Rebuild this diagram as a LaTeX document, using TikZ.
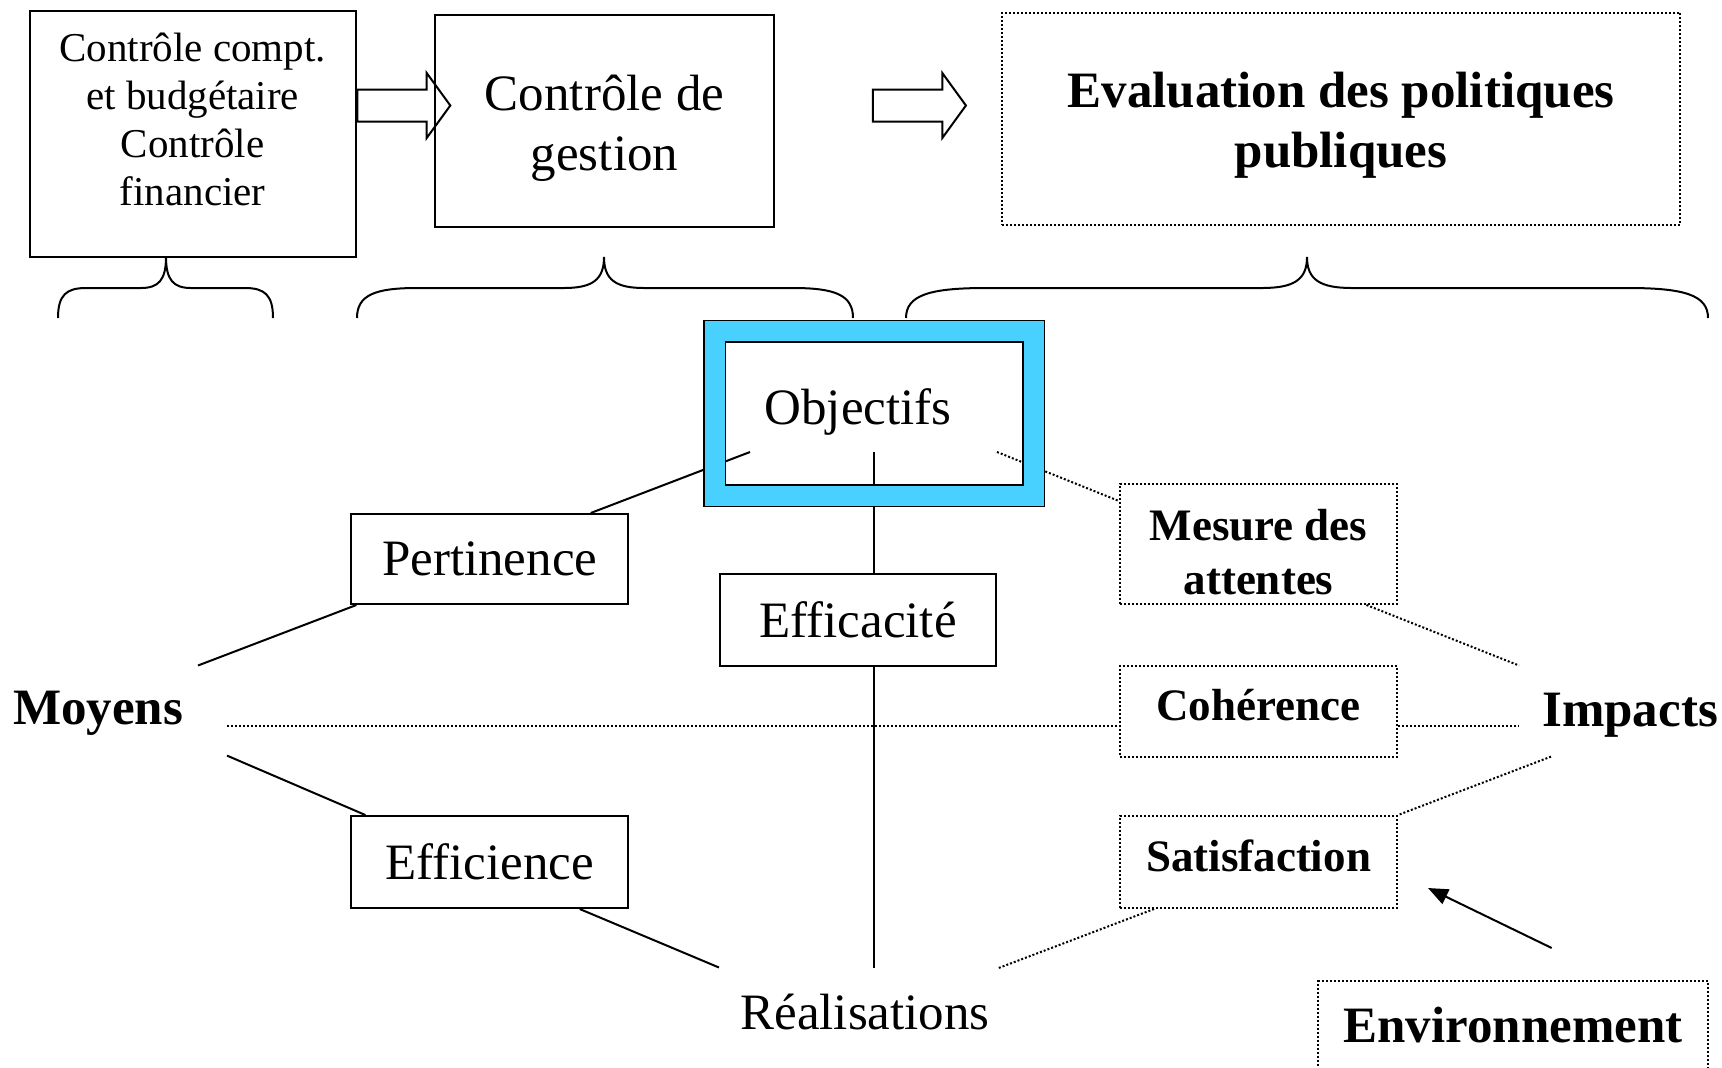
\documentclass[tikz,border=0pt]{standalone}
\usepackage{fontspec}
\setmainfont{Liberation Serif}
\usetikzlibrary{shapes,arrows.meta,calc}
\definecolor{cadre}{RGB}{72,208,255}

\begin{document}
\begin{tikzpicture}[x=0.5pt,y=-0.5pt]
  \tikzstyle{bx}=[draw,line width=1pt,fill=white,inner sep=0pt,align=center]
  \tikzstyle{dbx}=[bx,dash pattern=on 1pt off 1pt]
  \tikzstyle{dotline}=[line width=1pt,dash pattern=on 1pt off 1pt]
  \tikzstyle{bigf}=[font=\fontsize{25.5}{30}\selectfont]
  \tikzstyle{boldf}=[font=\fontsize{25.5}{30}\selectfont\bfseries]
  \tikzstyle{midf}=[font=\fontsize{22.5}{27}\selectfont\bfseries]
  \tikzstyle{blockarrow}=[draw,line width=1pt,single arrow,single arrow head extend=8.25pt,single arrow tip angle=108,minimum height=46.5pt,inner xsep=0pt,inner ysep=7.5pt]
  \fill[white] (0,0) rectangle (1722,1067);
  \useasboundingbox (0,0) rectangle (1722,1067);

  % top row
  \node[bx,minimum width=163pt,minimum height=123pt] (cbud) at (192.7,134) {};
  \node[font=\fontsize{20.5}{24}\selectfont,align=center] (cbudtxt) at (192.7,119) {Contrôle compt.\\et budgétaire\\Contrôle\\financier};
  \node[bx,minimum width=169.5pt,minimum height=105.8pt] (cges) at (604.5,121) {};
  \node[bigf,align=center] (cgestxt) at (604.5,128.7) {Contrôle de\\gestion};
  \node[dbx,minimum width=339.2pt,minimum height=106pt] (evpp) at (1341,119) {};
  \node[boldf,align=center] (evpptxt) at (1341,125.6) {Evaluation des politiques\\publiques};
  \node[blockarrow] (arrA) at (398,105.5) {};
  \node[blockarrow] (arrB) at (913.6,105.5) {};

  % braces
  \foreach \xl/\xt/\xr/\ra/\rb in {58/166/273/28/25,357/604/853/60/40,906/1307/1708/80/45}{
    \draw[line width=1pt] (\xl,318) .. controls (\xl,295) and (\xl+0.3*\ra,288) .. (\xl+\ra,288)
      -- (\xt-\rb,288) .. controls (\xt-0.3*\rb,288) and (\xt,280) .. (\xt,257)
      .. controls (\xt,280) and (\xt+0.3*\rb,288) .. (\xt+\rb,288)
      -- (\xr-\ra,288) .. controls (\xr-0.3*\ra,288) and (\xr,295) .. (\xr,318);
  }

  \coordinate (objL) at (750,452);
  \coordinate (objM) at (874,452);
  \coordinate (objR) at (997,452);
  \coordinate (moyA) at (198,665.5);
  \coordinate (moyB) at (227,726);
  \coordinate (moyC) at (227,755.6);
  \coordinate (impA) at (1519,665.5);
  \coordinate (impB) at (1519,726);
  \coordinate (impC) at (1551,756.6);
  \coordinate (realL) at (719,967.5);
  \coordinate (realM) at (874,967.5);
  \coordinate (realR) at (997,968.6);
  \coordinate (envA) at (1551.7,948);
  \coordinate (satA) at (1428,888);

  % criteria
  \node[bx,bigf,minimum width=138.3pt,minimum height=45pt] (pert) at (489.7,559) {Pertinence};
  \node[bx,bigf,minimum width=138pt,minimum height=46.3pt] (effa) at (858,620) {Efficacité};
  \node[bx,bigf,minimum width=138.3pt,minimum height=46pt] (effi) at (489.7,862) {Efficience};
  \node[dbx,minimum width=138.5pt,minimum height=60pt] (mes) at (1258.5,544) {};
  \node[midf,align=center] (mestxt) at (1258.5,551.7) {Mesure des\\attentes};
  \node[dbx,midf,minimum width=138.5pt,minimum height=45.5pt,text height=15.4pt,text depth=5.5pt] (coh) at (1258.5,711) {Cohérence};
  \node[dbx,midf,minimum width=138.5pt,minimum height=46pt,text height=15.4pt,text depth=5.5pt] (sat) at (1258.5,862) {Satisfaction};
  \node[boldf] (moy) at (98,713.5) {Moyens};
  \node[boldf] (imp) at (1630,715.6) {Impacts};
  \node[bigf] (real) at (865,1012) {Réalisations};
  \node[dbx,boldf,anchor=north,minimum width=195pt,text height=30.75pt,text depth=30pt] (env) at (1513,980) {Environnement};

  % links
  \draw[line width=1pt] (objL) -- ($(pert.north)+(101,0)$);
  \draw[line width=1pt] ($(pert.south west)+(6,0)$) -- (moyA);
  \draw[line width=1pt] (moyC) -- ($(effi.north west)+(15,0)$);
  \draw[line width=1pt] ($(effi.south)+(90,0)$) -- (realL);
  \draw[line width=1pt] (objM) -- (objM |- effa.north);
  \draw[line width=1pt] (objM |- effa.south) -- (realM);
  \draw[dotline] (objR) -- ($(mes.north west)+(0,18)$);
  \draw[dotline] ($(mes.south)+(108,0)$) -- (impA);
  \draw[dotline] (moyB) -- (moyB -| coh.west);
  \draw[dotline] (impB -| coh.east) -- (impB);
  \draw[dotline] (impC) -- (sat.north east);
  \draw[dotline] ($(sat.south west)+(35,0)$) -- (realR);
  \draw[line width=1pt,-{Triangle[length=10pt,width=8pt]}] (envA) -- (satA);

  % objectifs
  \node[draw,line width=0.8pt,double=cadre,double distance=10pt,minimum width=159.6pt,minimum height=82.2pt,inner sep=0pt] (obj) at (874.25,413.3) {};
  \node[bigf] (objtxt) at (858,411.5) {Objectifs};
\end{tikzpicture}
\end{document}
